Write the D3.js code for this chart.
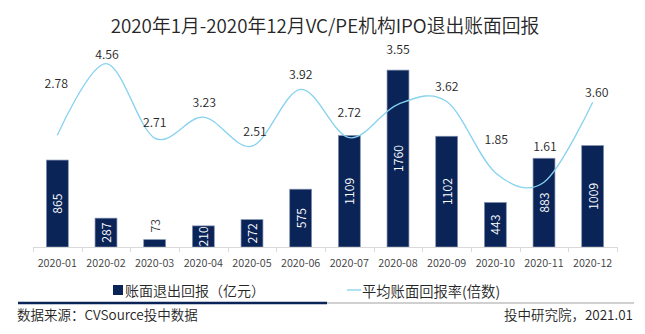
<!DOCTYPE html>
<meta charset="utf-8">
<html>
  <head>
    <style>
      body { margin: 0; background: #fff; }
      text { font-family: "Noto Sans CJK SC", "Noto Sans", sans-serif; font-weight: 350; }
      .tick-label { font-size: 10.8px; fill: #404040; }
      .val { font-size: 12.3px; }
    </style>
    <script src="https://d3js.org/d3.v7.min.js"></script>
  </head>
  <body>
    <script>
      var width = 645,
          height = 334;

      // data
      var months = ["2020-01", "2020-02", "2020-03", "2020-04", "2020-05", "2020-06",
                    "2020-07", "2020-08", "2020-09", "2020-10", "2020-11", "2020-12"];
      var returns = [865, 287, 73, 210, 272, 575, 1109, 1760, 1102, 443, 883, 1009];
      var multiples = [2.78, 4.56, 2.71, 3.23, 2.51, 3.92, 2.72, 3.55, 3.62, 1.85, 1.61, 3.60];

      // label placement tweaks (px from point)
      var lineLabelDy = [-52, -10, -16, -15, -15, -15, -26, -55, -15, -34, -36, -10];
      var lineLabelDx = [-1, 1, 0, 1, 3, 0, 0, 0, 0, 1, 1, 4];

      var navy = "#0b2458",
          lineBlue = "#86d2ef";

      var svg = d3.select("body").append("svg")
          .attr("width", width)
          .attr("height", height);

      var x = d3.scaleBand()
          .domain(months)
          .range([33, 617])
          .paddingInner(0.55)
          .paddingOuter(0.275);

      var y = d3.scaleLinear().domain([0, 2000]).range([247, 46]);
      var y2 = d3.scaleLinear().domain([0, 5]).range([247, 46]);

      var cx = function(d, i) { return x(months[i]) + x.bandwidth() / 2; };

      // title
      svg.append("text")
          .attr("x", 325)
          .attr("y", 33)
          .attr("text-anchor", "middle")
          .style("font-size", "18.8px")
          .style("fill", "#262626")
          .text("2020年1月-2020年12月VC/PE机构IPO退出账面回报");

      // bars
      svg.selectAll(".bar")
          .data(returns)
          .enter().append("rect")
          .attr("class", "bar")
          .attr("x", function(d, i) { return x(months[i]); })
          .attr("y", function(d) { return y(d); })
          .attr("width", x.bandwidth())
          .attr("height", function(d) { return y(0) - y(d); })
          .attr("fill", navy)
          .attr("stroke", "#7f90b0")
          .attr("stroke-width", 0.7);

      // bar labels, rotated
      svg.selectAll(".barlabel")
          .data(returns)
          .enter().append("text")
          .attr("class", "val barlabel")
          .attr("text-anchor", "middle")
          .attr("dominant-baseline", "central")
          .attr("transform", function(d, i) {
              var ty = d < 100 ? y(d) - 14 : (y(d) + y(0)) / 2;
              return "translate(" + cx(d, i) + "," + ty + ")rotate(-90)";
          })
          .style("fill", function(d) { return d < 100 ? "#404040" : "#fff"; })
          .text(function(d) { return d; });

      // axis
      var g = svg.append("g");
      g.append("line")
          .attr("x1", 33).attr("x2", 617)
          .attr("y1", y(0) + 0.5).attr("y2", y(0) + 0.5)
          .attr("stroke", "#d9d9d9");
      var bounds = d3.range(months.length + 1).map(function(i) { return 33 + i * x.step(); });
      g.selectAll(".tk")
          .data(bounds)
          .enter().append("line")
          .attr("x1", function(d) { return Math.round(d) + 0.5; })
          .attr("x2", function(d) { return Math.round(d) + 0.5; })
          .attr("y1", y(0)).attr("y2", y(0) + 5)
          .attr("stroke", "#d9d9d9");
      g.selectAll(".tick-label")
          .data(months)
          .enter().append("text")
          .attr("class", "tick-label")
          .attr("x", function(d, i) { return cx(d, i); })
          .attr("y", 267)
          .attr("text-anchor", "middle")
          .text(function(d) { return d; });

      // smoothed line
      var line = d3.line()
          .x(function(d, i) { return cx(d, i); })
          .y(function(d) { return y2(d); })
          .curve(d3.curveCatmullRom.alpha(0));

      svg.append("path")
          .datum(multiples)
          .attr("d", line)
          .attr("fill", "none")
          .attr("stroke", lineBlue)
          .attr("stroke-width", 1.3);

      svg.selectAll(".linelabel")
          .data(multiples)
          .enter().append("text")
          .attr("class", "val linelabel")
          .attr("text-anchor", "middle")
          .attr("dominant-baseline", "central")
          .attr("x", function(d, i) { return cx(d, i) + lineLabelDx[i]; })
          .attr("y", function(d, i) { return y2(d) + lineLabelDy[i]; })
          .style("fill", "#262626")
          .text(function(d) { return d.toFixed(2); });

      // legend
      var lg = svg.append("g");
      lg.append("rect")
          .attr("x", 113).attr("y", 285)
          .attr("width", 10).attr("height", 10)
          .attr("fill", navy);
      lg.append("text")
          .attr("x", 125).attr("y", 290)
          .attr("dominant-baseline", "central")
          .style("font-size", "14px")
          .style("fill", "#262626")
          .text("账面退出回报（亿元）");
      lg.append("line")
          .attr("x1", 347).attr("x2", 361)
          .attr("y1", 290).attr("y2", 290)
          .attr("stroke", lineBlue)
          .attr("stroke-width", 1.3);
      lg.append("text")
          .attr("x", 362).attr("y", 290)
          .attr("dominant-baseline", "central")
          .style("font-size", "14.3px")
          .style("fill", "#262626")
          .text("平均账面回报率(倍数)");

      // separator
      svg.append("line")
          .attr("x1", 327).attr("x2", 634)
          .attr("y1", 303).attr("y2", 303)
          .attr("stroke", "#d0d0d0")
          .attr("stroke-width", 2);
      svg.append("line")
          .attr("x1", 18).attr("x2", 327)
          .attr("y1", 303).attr("y2", 303)
          .attr("stroke", navy)
          .attr("stroke-width", 2.5);

      // footer
      svg.append("text")
          .attr("x", 17).attr("y", 314)
          .attr("dominant-baseline", "central")
          .style("font-size", "13.5px")
          .style("fill", "#262626")
          .text("数据来源：CVSource投中数据");
      svg.append("text")
          .attr("x", 633).attr("y", 314)
          .attr("text-anchor", "end")
          .attr("dominant-baseline", "central")
          .style("font-size", "13.5px")
          .style("fill", "#262626")
          .text("投中研究院，2021.01");
    </script>
  </body>
</html>
